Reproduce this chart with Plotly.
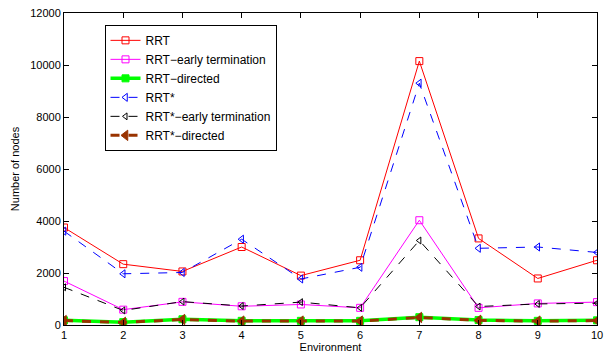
import plotly.graph_objects as go

env = [1, 2, 3, 4, 5, 6, 7, 8, 9, 10]
rrt = [3750, 2340, 2060, 3000, 1900, 2490, 10150, 3330, 1790, 2490]
rrt_early = [1690, 590, 890, 720, 790, 660, 4030, 660, 830, 880]
rrt_directed = [180, 110, 220, 160, 160, 160, 300, 190, 160, 180]
rrt_star = [3610, 1970, 2020, 3300, 1770, 2220, 9300, 2950, 3000, 2790]
rrt_star_early = [1450, 560, 900, 730, 880, 660, 3250, 710, 810, 840]
rrt_star_directed = [170, 100, 210, 150, 150, 150, 290, 180, 150, 170]
y_ticks = [0, 2000, 4000, 6000, 8000, 10000, 12000]
y_tick_text = ["0", "2000", "4000", "6000", "8000", "10000", "12000"]

FONT = "Liberation Sans, Arial"
fig = go.Figure()

def add(name, y, color, dash, width, symbol, size):
    fig.add_trace(go.Scatter(
        x=env, y=y, name=name, mode="lines+markers",
        line=dict(color=color, dash=dash, width=width),
        marker=dict(symbol=symbol, size=size, color=color,
                    line=dict(color=color, width=1)),
    ))

add("RRT", rrt, "#ff0000", "solid", 1, "square-open", 7)
add("RRT\u2212early termination", rrt_early, "#ff00ff", "solid", 1, "square-open", 7)
add("RRT\u2212directed", rrt_directed, "#00ff00", "solid", 3.5, "square", 7)
add("RRT*", rrt_star, "#0000ff", "dash", 1, "triangle-left-open", 7)
add("RRT*\u2212early termination", rrt_star_early, "#000000", "dash", 1, "triangle-left-open", 6)
add("RRT*\u2212directed", rrt_star_directed, "#993300", "dash", 3, "triangle-left", 9)

axis_common = dict(
    showline=True, linecolor="black", linewidth=1, mirror="ticks",
    ticks="inside", ticklen=5, tickcolor="black", showgrid=False, zeroline=False,
    tickfont=dict(family=FONT, size=11, color="black"),
)

fig.update_xaxes(range=[1, 10], tickvals=env, **axis_common,
                 title=dict(text="Environment", standoff=2,
                            font=dict(family=FONT, size=11, color="black")))
fig.update_yaxes(range=[0, 12000], tickvals=y_ticks, ticktext=y_tick_text, **axis_common,
                 title=dict(text="Number of nodes", standoff=8,
                            font=dict(family=FONT, size=11, color="black")))

fig.update_layout(
    width=610, height=360,
    margin=dict(l=64, r=7, t=10, b=35),
    plot_bgcolor="white", paper_bgcolor="white",
    legend=dict(x=0.076, y=0.962, xanchor="left", yanchor="top",
                bordercolor="black", borderwidth=1, bgcolor="white",
                font=dict(family=FONT, size=12, color="black"),
                itemwidth=30, tracegroupgap=0),
    showlegend=True,
)

fig.write_html("out.html")
